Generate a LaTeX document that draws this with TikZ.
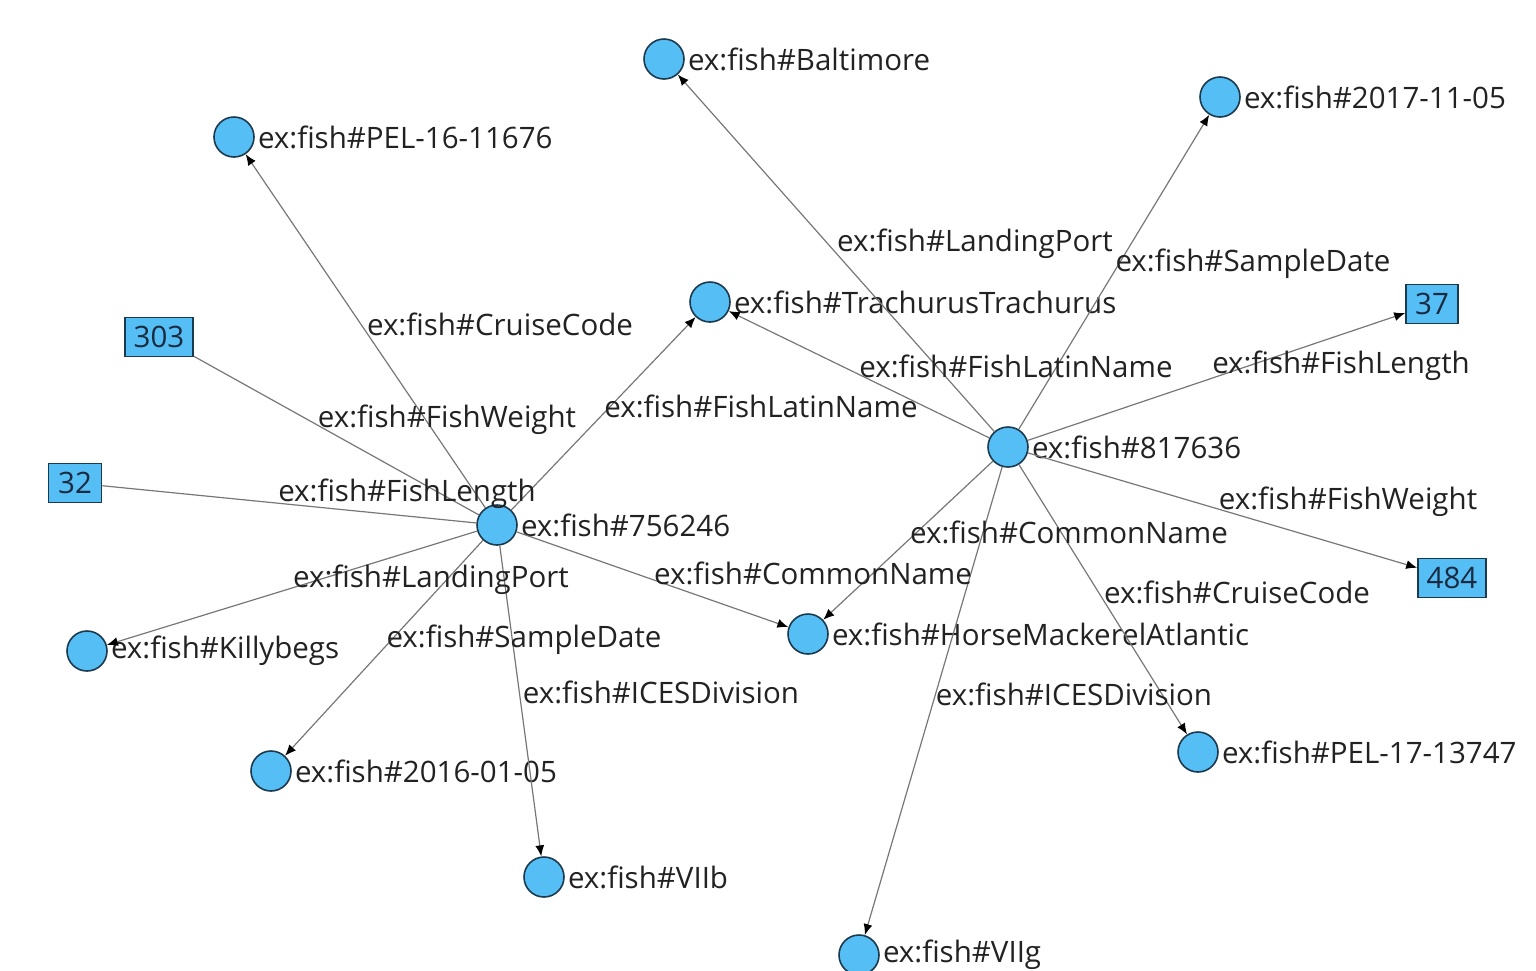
\documentclass[tikz,border=0pt]{standalone}
\usepackage{fontspec}
\setmainfont{Open Sans}
\usetikzlibrary{arrows.meta}
\definecolor{nodefill}{HTML}{55BEF5}
\definecolor{nodeline}{HTML}{1C3A4E}
\definecolor{edgecol}{HTML}{777777}
\definecolor{txt}{HTML}{222222}
\definecolor{littxt}{HTML}{1A2A40}
\newcommand{\fs}{\fontsize{29.5}{34}\selectfont}
\begin{document}
\begin{tikzpicture}[x=1pt,y=-1pt,
  ent/.style={circle, draw=nodeline, fill=nodefill, line width=1.6pt, minimum size=40pt, inner sep=0pt},
  lit/.style={rectangle, draw=nodeline, fill=nodefill, line width=1.6pt, minimum height=39pt, inner sep=2pt, font=\fs, text=littxt},
  nametxt/.style={anchor=west, inner sep=0pt, font=\fs, text=txt},
  lbl/.style={inner sep=0pt, font=\fs, text=txt, yshift=-3pt},
  edgeln/.style={draw=edgecol, line width=1.2pt},
  arr/.style={edgeln, -{Latex[length=11pt,width=9pt,color=black]}}
]
\useasboundingbox (0,0) rectangle (1536,970);
% entity nodes
\node[ent] (n756) at (497,525) {};
\node[ent] (n817) at (1008,447) {};
\node[ent] (balt) at (664,59) {};
\node[ent] (d1711) at (1220,97) {};
\node[ent] (pel16) at (234,137) {};
\node[ent] (trach) at (710,302) {};
\node[ent] (killy) at (87,651) {};
\node[ent] (d1601) at (271,771) {};
\node[ent] (viib) at (544,877) {};
\node[ent] (horse) at (808,634) {};
\node[ent] (pel17) at (1198,752) {};
\node[ent] (viig) at (859,955) {};
% literal nodes
\node[lit, minimum width=68pt] (b303) at (159,337) {303};
\node[lit, minimum width=53pt] (b32) at (75,483) {32};
\node[lit, minimum width=52pt] (b37) at (1432,304) {37};
\node[lit, minimum width=68pt] (b484) at (1452,578) {484};
% names
\node[nametxt] (t756) at ([xshift=3pt]n756.east) {ex:fish\#756246};
\node[nametxt] (t817) at ([xshift=3pt]n817.east) {ex:fish\#817636};
\node[nametxt] (tbalt) at ([xshift=3pt]balt.east) {ex:fish\#Baltimore};
\node[nametxt] (td1711) at ([xshift=3pt]d1711.east) {ex:fish\#2017-11-05};
\node[nametxt] (tpel16) at ([xshift=3pt]pel16.east) {ex:fish\#PEL-16-11676};
\node[nametxt] (ttrach) at ([xshift=3pt]trach.east) {ex:fish\#TrachurusTrachurus};
\node[nametxt] (tkilly) at ([xshift=3pt]killy.east) {ex:fish\#Killybegs};
\node[nametxt] (td1601) at ([xshift=3pt]d1601.east) {ex:fish\#2016-01-05};
\node[nametxt] (tviib) at ([xshift=3pt]viib.east) {ex:fish\#VIIb};
\node[nametxt] (thorse) at ([xshift=3pt]horse.east) {ex:fish\#HorseMackerelAtlantic};
\node[nametxt] (tpel17) at ([xshift=3pt]pel17.east) {ex:fish\#PEL-17-13747};
\node[nametxt] (tviig) at ([xshift=3pt]viig.east) {ex:fish\#VIIg};
% edges from 756246
\draw[arr] (n756) -- (pel16);
\draw[edgeln] (n756) -- (b303);
\draw[edgeln] (n756) -- (b32);
\draw[arr] (n756) -- (trach);
\draw[arr] (n756) -- (killy);
\draw[arr] (n756) -- (d1601);
\draw[arr] (n756) -- (viib);
\draw[arr] (n756) -- (horse);
% edges from 817636
\draw[arr] (n817) -- (balt);
\draw[arr] (n817) -- (d1711);
\draw[arr] (n817) -- (trach);
\draw[arr] (n817) -- (b37);
\draw[arr] (n817) -- (b484);
\draw[arr] (n817) -- (horse);
\draw[arr] (n817) -- (pel17);
\draw[arr] (n817) -- (viig);
% edge labels
\node[lbl] (l1) at (500,321) {ex:fish\#CruiseCode};
\node[lbl] (l2) at (447,417) {ex:fish\#FishWeight};
\node[lbl] (l3) at (407,491) {ex:fish\#FishLength};
\node[lbl] (l4) at (761,403) {ex:fish\#FishLatinName};
\node[lbl] (l5) at (431,577) {ex:fish\#LandingPort};
\node[lbl] (l6) at (524,637) {ex:fish\#SampleDate};
\node[lbl] (l7) at (661,689) {ex:fish\#ICESDivision};
\node[lbl] (l8) at (813,570) {ex:fish\#CommonName};
\node[lbl] (l9) at (975,241) {ex:fish\#LandingPort};
\node[lbl] (l10) at (1253,261) {ex:fish\#SampleDate};
\node[lbl] (l11) at (1016,363) {ex:fish\#FishLatinName};
\node[lbl] (l12) at (1341,363) {ex:fish\#FishLength};
\node[lbl] (l13) at (1348,499) {ex:fish\#FishWeight};
\node[lbl] (l14) at (1069,529) {ex:fish\#CommonName};
\node[lbl] (l15) at (1237,589) {ex:fish\#CruiseCode};
\node[lbl] (l16) at (1074,691) {ex:fish\#ICESDivision};
\end{tikzpicture}
\end{document}
